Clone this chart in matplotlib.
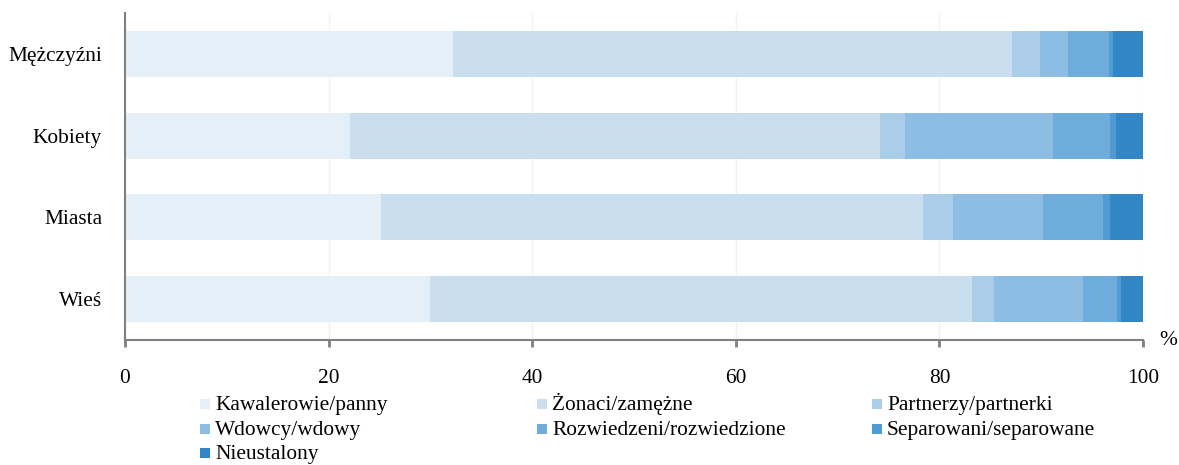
import matplotlib
matplotlib.use("Agg")
import matplotlib.pyplot as plt
import numpy as np
from matplotlib.patches import Rectangle

categories = ["Mężczyźni", "Kobiety", "Miasta", "Wieś"]
series_names = ["Kawalerowie/panny", "Żonaci/zamężne", "Partnerzy/partnerki",
                "Wdowcy/wdowy", "Rozwiedzeni/rozwiedzione", "Separowani/separowane",
                "Nieustalony"]
kawalerowie = [32.2, 22.1, 25.1, 30.0]
zonaci = [54.9, 52.1, 53.3, 53.2]
partnerzy = [2.8, 2.4, 2.9, 2.2]
wdowcy = [2.7, 14.6, 8.9, 8.7]
rozwiedzeni = [4.1, 5.6, 5.9, 3.3]
separowani = [0.4, 0.5, 0.7, 0.4]
nieustalony = [2.9, 2.7, 3.2, 2.2]
ticks = [0, 20, 40, 60, 80, 100]

colors = ["#e5eff8", "#c9dfef", "#aacde8", "#8dbde3", "#6eaddb", "#4f9bd3", "#3286c5"]
series = [kawalerowie, zonaci, partnerzy, wdowcy, rozwiedzeni, separowani, nieustalony]

plt.rcParams['font.family'] = ['Liberation Serif', 'DejaVu Serif']
FS = 15.4
W, H = 1179, 465

fig = plt.figure(figsize=(W/100, H/100), dpi=100)
ax = fig.add_axes([125/W, 1-340/H, (1143-125)/W, (340-13)/H])

y = np.arange(len(categories))
left = np.zeros(len(categories))
for vals, col, name in zip(series, colors, series_names):
    ax.barh(y, vals, left=left, height=0.56, color=col, label=name, zorder=2)
    left += np.array(vals)

ax.set_xlim(0, 100)
ax.set_ylim(3.5, -0.5)
ax.set_yticks(y)
ax.set_yticklabels(categories, fontsize=FS)
ax.set_xticks(ticks)
ax.set_xticklabels([str(t) for t in ticks], fontsize=FS)
ax.tick_params(axis='y', length=0, pad=16.5)
ax.tick_params(axis='x', length=5, width=2, color='#808080', pad=16)
for s in ['top', 'right']:
    ax.spines[s].set_visible(False)
for s in ['left', 'bottom']:
    ax.spines[s].set_color('#808080')
    ax.spines[s].set_linewidth(1.5)
ax.grid(axis='x', color='#f2f2f2', linewidth=1, zorder=0)
ax.set_axisbelow(True)

fig.text(1168/W, 1-340/H, "%", fontsize=FS, ha='center', va='center')

# Legend: three columns, placed manually
col_x = [200, 537, 872]
row_y = [399, 423.5, 448]
positions = [(0, 0), (1, 0), (2, 0), (0, 1), (1, 1), (2, 1), (0, 2)]
for i, (c, r) in enumerate(positions):
    x0 = col_x[c]
    y0 = row_y[r]
    fig.patches.append(Rectangle((x0/W, 1-(y0+10)/H), 10/W, 10/H,
                                 transform=fig.transFigure, facecolor=colors[i],
                                 edgecolor='none'))
    fig.text((x0+15)/W, 1-(y0+11)/H, series_names[i], fontsize=FS,
             ha='left', va='baseline')

fig.savefig("out.png", dpi=100)
